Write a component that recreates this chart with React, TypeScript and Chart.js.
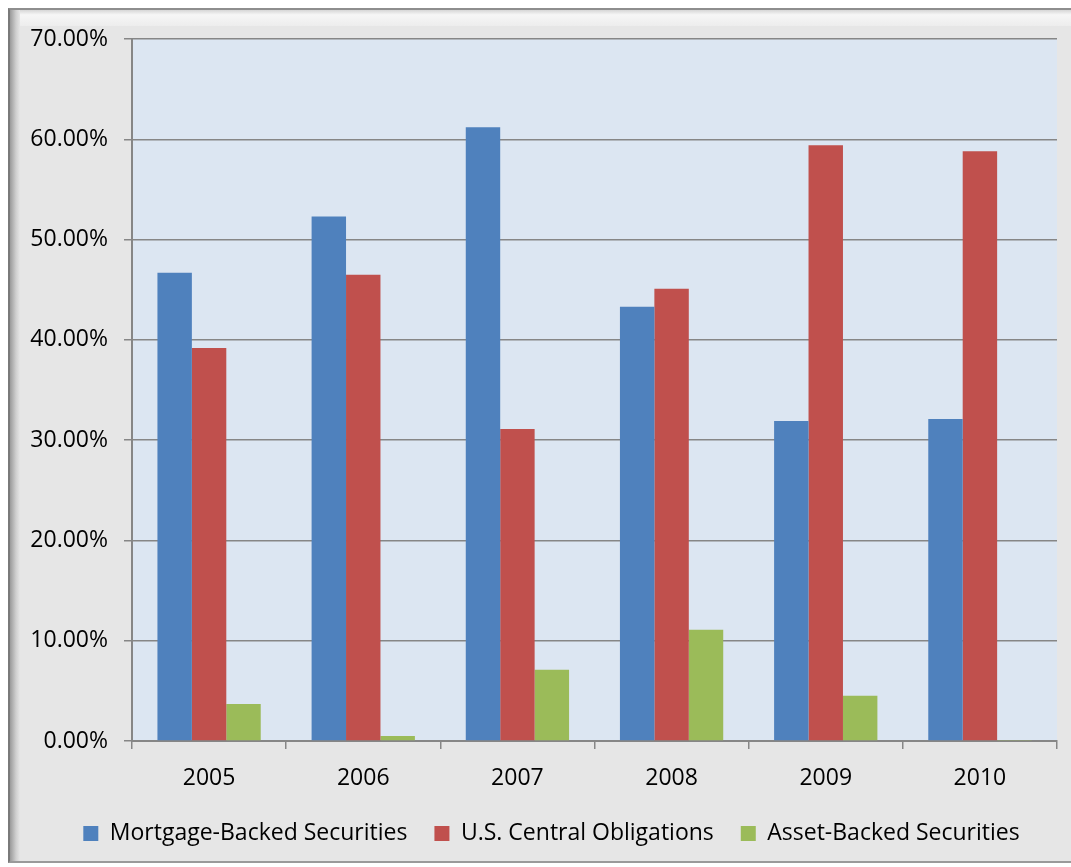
import React, { useEffect, useRef } from "react";
import { Chart, registerables } from "chart.js";

Chart.register(...registerables);

const years = ["2005", "2006", "2007", "2008", "2009", "2010"];
const mortgageBacked = [46.7, 52.3, 61.2, 43.3, 31.9, 32.1];
const usCentral = [39.2, 46.5, 31.1, 45.1, 59.4, 58.8];
const assetBacked = [3.7, 0.5, 7.1, 11.1, 4.5, 0.1];
const seriesNames = ["Mortgage-Backed Securities", "U.S. Central Obligations", "Asset-Backed Securities"];
const seriesColors = ["#4F81BD", "#C0504D", "#9BBB59"];

const FONT = "'Open Sans', 'Noto Sans', sans-serif";

const plotBg = {
  id: "plotBg",
  beforeDraw(chart: any) {
    const { ctx, chartArea } = chart;
    ctx.save();
    ctx.fillStyle = "#DCE6F2";
    ctx.fillRect(chartArea.left, chartArea.top, chartArea.right - chartArea.left, chartArea.bottom - chartArea.top);
    ctx.restore();
  },
};

const legendShift = {
  id: "legendShift",
  afterLayout(chart: any) {
    const lg = chart.legend;
    if (lg) {
      lg.left += 23;
      lg.right += 23;
    }
  },
};

export default function App() {
  const ref = useRef<HTMLCanvasElement | null>(null);
  useEffect(() => {
    document.body.style.margin = "0";
    const canvas = ref.current!;
    const chart = new Chart(canvas, {
      type: "bar",
      data: {
        labels: years,
        datasets: [mortgageBacked, usCentral, assetBacked].map((d, i) => ({
          label: seriesNames[i],
          data: d,
          backgroundColor: seriesColors[i],
          borderWidth: 0,
          categoryPercentage: 0.67,
          barPercentage: 1.0,
        })),
      },
      options: {
        responsive: false,
        animation: false,
        devicePixelRatio: 1,
        layout: { padding: { left: 0, right: 14, top: 39, bottom: 12 } },
        plugins: {
          tooltip: { enabled: false },
          legend: {
            position: "bottom",
            labels: {
              color: "#000",
              font: { family: FONT, size: 23 },
              boxWidth: 15,
              boxHeight: 15,
              padding: 27,
            },
          },
        },
        scales: {
          x: {
            grid: {
              display: true,
              drawOnChartArea: false,
              drawTicks: true,
              tickLength: 8,
              offset: true,
              color: "#868686",
              lineWidth: 1.5,
            },
            border: { color: "#868686", width: 2 },
            ticks: { color: "#000", font: { family: FONT, size: 23 }, padding: 16 },
            afterFit(scale: any) {
              scale.height = 54;
            },
          },
          y: {
            min: 0,
            max: 70,
            grid: { color: "#868686", lineWidth: 1.5, tickLength: 8 },
            border: { color: "#868686", width: 2 },
            ticks: {
              stepSize: 10,
              color: "#000",
              font: { family: FONT, size: 23 },
              padding: 16,
              callback: (v: any) => Number(v).toFixed(2) + "%",
            },
            afterFit(scale: any) {
              scale.width = 132;
            },
          },
        },
      },
      plugins: [plotBg, legendShift],
    });
    return () => chart.destroy();
  }, []);

  return (
    <div style={{ position: "absolute", left: 0, top: 0, width: 1071, height: 867, background: "#fff", overflow: "hidden" }}>
      <div
        style={{
          position: "absolute",
          left: 8,
          top: 8,
          width: 1080,
          height: 855,
          background: "#E6E6E6",
          borderTop: "2px solid #8E8E8E",
          borderBottom: "2px solid #9A9A9A",
          borderLeft: "2px solid #7A7A7A",
          boxSizing: "border-box",
        }}
      >
        <div style={{ position: "absolute", left: 0, top: 0, right: 0, height: 16, background: "linear-gradient(to bottom, #d6d6d6, #f6f6f6 30%, #ededed)" }} />
        <div style={{ position: "absolute", left: 0, top: 0, bottom: 0, width: 10, background: "linear-gradient(to right, #9a9a9a, #cfcfcf 60%, #e6e6e6)" }} />
      </div>
      <canvas ref={ref} width={1071} height={867} style={{ position: "absolute", left: 0, top: 0, width: 1071, height: 867 }} />
    </div>
  );
}
